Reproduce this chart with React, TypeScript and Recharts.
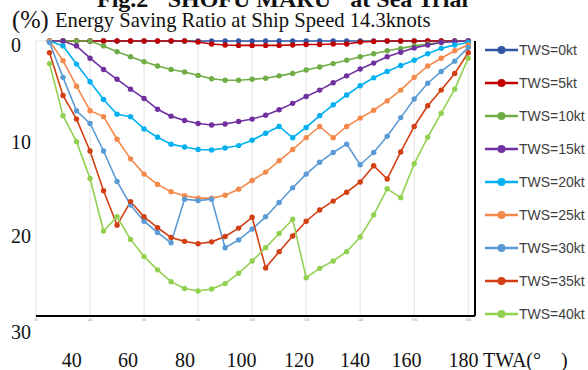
import { CartesianGrid, Line, LineChart, ReferenceLine, XAxis, YAxis } from "recharts";

// true wind angle (deg) of each measured point
const twa = [
  25, 30, 35, 40, 45, 50, 55, 60, 65, 70, 75, 80, 85, 90, 95, 100,
  105, 110, 115, 120, 125, 130, 135, 140, 145, 150, 155, 160, 165, 170, 175, 180,
];

// energy saving ratio (%) per true wind speed
const tws0 = [
  0, 0, 0, 0, 0, 0, 0, 0, 0, 0, 0, 0, 0, 0, 0, 0,
  0, 0, 0, 0, 0, 0, 0, 0, 0, 0, 0, 0, 0, 0, 0, 0,
];
const tws5 = [
  0, 0, 0, 0, 0, 0, 0, 0, 0, 0, 0, 0.1, 0.3, 0.4, 0.45, 0.45,
  0.45, 0.45, 0.4, 0.35, 0.35, 0.3, 0.3, 0.1, 0.05, 0, 0, 0, 0, 0, 0, 0,
];
const tws10 = [
  0, 0, 0, 0, 0.5, 1.1, 1.6, 2.1, 2.55, 2.9, 3.15, 3.5, 3.85, 4.0, 4.0, 3.9,
  3.8, 3.55, 3.3, 2.95, 2.65, 2.3, 1.95, 1.6, 1.3, 1.0, 0.75, 0.5, 0.3, 0.15, 0.05, 0,
];
const tws15 = [
  0, 0, 0.5, 1.75, 2.9, 3.9, 4.9, 5.85, 6.95, 7.65, 8.1, 8.4, 8.55, 8.45, 8.2, 7.95,
  7.55, 7.0, 6.35, 5.65, 5.0, 4.25, 3.55, 2.85, 2.25, 1.6, 1.15, 0.7, 0.4, 0.15, 0.05, 0,
];
const tws20 = [
  0, 0.5, 2.35, 4.15, 5.95, 7.45, 7.7, 8.95, 9.8, 10.5, 10.8, 11.05, 11.1, 10.9, 10.65, 10.1,
  9.4, 8.7, 9.85, 8.8, 7.6, 6.5, 5.5, 4.55, 3.75, 3.1, 2.5, 1.95, 1.3, 0.75, 0.4, 0.15,
];
const tws25 = [
  0, 2.0, 4.6, 7.1, 7.7, 10.0, 12.0, 13.55, 14.6, 15.35, 15.75, 16.0, 16.0, 15.7, 15.1, 14.2,
  13.35, 12.2, 11.05, 9.85, 8.7, 9.85, 8.7, 7.85, 7.05, 6.1, 5.0, 3.7, 2.55, 1.75, 1.0, 0.4,
];
const tws30 = [
  0.15, 3.7, 7.1, 8.4, 11.2, 14.3, 16.7, 18.35, 19.5, 20.55, 16.1, 16.25, 16.1, 21.05, 20.25, 19.15,
  17.9, 16.45, 14.95, 13.55, 12.35, 11.35, 10.5, 12.6, 11.35, 9.7, 7.8, 5.9, 4.3, 3.1, 2.05, 0.65,
];
const tws35 = [
  1.2, 5.55, 7.95, 11.2, 15.25, 18.75, 16.35, 17.9, 19.0, 20.0, 20.4, 20.65, 20.45, 19.9, 19.05, 17.95,
  23.1, 21.45, 19.85, 18.35, 17.2, 16.3, 15.4, 14.35, 12.7, 14.05, 11.3, 8.7, 6.6, 5.0, 3.3, 1.2,
];
const tws40 = [
  2.3, 7.6, 10.25, 14.0, 19.35, 17.9, 20.2, 21.95, 23.3, 24.5, 25.2, 25.45, 25.25, 24.7, 23.65, 22.4,
  21.05, 19.6, 18.15, 24.1, 23.15, 22.4, 21.45, 19.95, 17.7, 15.05, 15.95, 12.5, 9.8, 7.35, 4.9, 1.75,
];

const xTicks = [20, 40, 60, 80, 100, 120, 140, 160, 180];
const yGrid = [0, 3, 6, 9, 12, 15, 18, 21, 24, 27];
const leftLabels = ["0", "10", "20", "30"];
const bottomLabels = ["40", "60", "80", "100", "120", "140", "160", "180"];

const series = [
  { name: "TWS=0kt", values: tws0, color: "#2F55A4" },
  { name: "TWS=5kt", values: tws5, color: "#C00000" },
  { name: "TWS=10kt", values: tws10, color: "#70AD47" },
  { name: "TWS=15kt", values: tws15, color: "#7030A0" },
  { name: "TWS=20kt", values: tws20, color: "#00B0F0" },
  { name: "TWS=25kt", values: tws25, color: "#F4894B" },
  { name: "TWS=30kt", values: tws30, color: "#5B9BD5" },
  { name: "TWS=35kt", values: tws35, color: "#D23F12" },
  { name: "TWS=40kt", values: tws40, color: "#92D050" },
];

const data = twa.map((angle, i) => {
  const row: Record<string, number> = { twa: angle };
  series.forEach((s) => {
    row[s.name] = s.values[i];
  });
  return row;
});

const serif = "'Liberation Serif', 'Times New Roman', serif";

// hand placed label spots (outer figure text, not aligned to the plot scale)
const leftBaselines = [52, 148.5, 243, 338.5];
const bottomCenters = [71.7, 128, 185, 241.5, 299, 355, 406.5, 463.5];

export default function App() {
	return (
		<div
			style={{
				position: "absolute",
				left: 0,
				top: 0,
				width: 588,
				height: 370,
				background: "#fff",
				overflow: "hidden",
			}}
		>
			<LineChart
				width={588}
				height={370}
				data={data}
				margin={{ top: 41, right: 113, bottom: 44, left: 36 }}
			>
				<CartesianGrid stroke="#e3e3e3" strokeWidth={1} />
				<XAxis
					dataKey="twa"
					type="number"
					domain={[20, 182.5]}
					ticks={xTicks}
					height={10}
					interval={0}
					tickLine={false}
					tickSize={0}
					tickMargin={2}
					tick={{ fontSize: 4, fill: "#999" }}
					axisLine={{ stroke: "#000", strokeWidth: 2 }}
				/>
				<YAxis
					type="number"
					domain={[0, 28]}
					reversed
					ticks={yGrid}
					width={0}
					tick={false}
					tickLine={false}
					axisLine={{ stroke: "#000", strokeWidth: 2 }}
				/>
				<ReferenceLine x={182.5} stroke="#000" strokeWidth={2} />
				{series.map((s) => (
					<Line
						key={s.name}
						type="linear"
						dataKey={s.name}
						stroke={s.color}
						strokeWidth={1.6}
						dot={{ r: 2.7, fill: s.color, stroke: s.color, strokeWidth: 0 }}
						activeDot={false}
						isAnimationActive={false}
					/>
				))}
			</LineChart>

			<svg
				width={588}
				height={370}
				style={{ position: "absolute", left: 0, top: 0, pointerEvents: "none" }}
			>
				<text x={97} y={6.5} fontFamily={serif} fontSize={24} fontWeight="bold" fill="#111">
					Fig.2 "SHOFU MARU" at Sea Trial
				</text>
				<text x={12} y={28} fontFamily={serif} fontSize={24.5} fill="#111">
					(%)
				</text>
				<text x={55} y={27} fontFamily={serif} fontSize={20.6} fill="#111">
					Energy Saving Ratio at Ship Speed 14.3knots
				</text>
				{leftLabels.map((label, i) => (
					<text key={label} x={11} y={leftBaselines[i]} fontFamily={serif} fontSize={20} fill="#111">
						{label}
					</text>
				))}
				{bottomLabels.map((label, i) => (
					<text
						key={label}
						x={bottomCenters[i]}
						y={367}
						textAnchor="middle"
						fontFamily={serif}
						fontSize={20}
						fill="#111"
					>
						{label}
					</text>
				))}
				<text x={483} y={367} fontFamily={serif} fontSize={20} fill="#111" xmlSpace="preserve">
					TWA(°    )
				</text>
			</svg>

			<div style={{ position: "absolute", left: 484, top: 33 }}>
				{series.map((s) => (
					<div key={s.name} style={{ display: "flex", alignItems: "center", height: 33 }}>
						<svg width={35} height={12}>
							<line x1={1} y1={6} x2={34} y2={6} stroke={s.color} strokeWidth={2.5} />
							<circle cx={17.5} cy={6} r={4} fill={s.color} />
						</svg>
						<span
							style={{
								fontFamily: "'Liberation Sans', Arial, sans-serif",
								fontSize: 14,
								color: "#404040",
							}}
						>
							{s.name}
						</span>
					</div>
				))}
			</div>
		</div>
	);
}
